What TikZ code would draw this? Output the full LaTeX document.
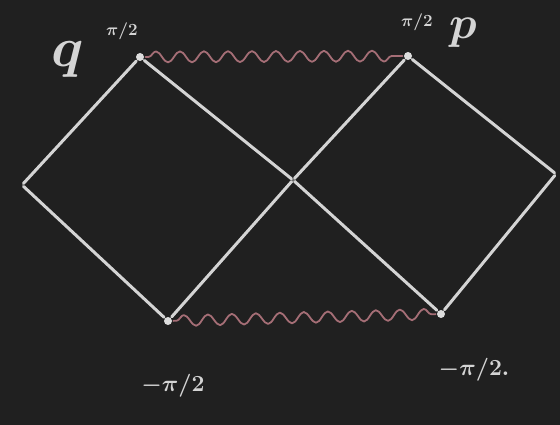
\RequirePackage{fix-cm}
\documentclass[tikz,border=0pt]{standalone}
\usepackage{amsmath}
\usepackage{xcolor}
\usetikzlibrary{decorations.pathmorphing}

\definecolor{board}{RGB}{32,32,32}
\definecolor{chalk}{RGB}{212,212,212}
\definecolor{redchalk}{RGB}{165,110,118}

\begin{document}
\begin{tikzpicture}[x=1pt,y=-1pt,line width=3pt,line join=round,line cap=round,
    corner/.style={circle,fill=chalk!80,inner sep=0pt,minimum size=8pt},
    tip/.style={inner sep=0pt,minimum size=0pt},
    wave/.style={draw=redchalk,line width=1.8pt,decorate,
      decoration={snake,segment length=24pt,amplitude=5.5pt,pre length=3pt,post length=3pt}},
    lbl/.style={text=chalk,inner sep=0pt}]
    \fill[board] (0,0) rectangle (560,425);
    \useasboundingbox (0,0) rectangle (560,425);

    \node[corner] (A) at (140,57) {};
    \node[corner] (B) at (408,56) {};
    \node[corner] (C) at (168,321) {};
    \node[corner] (D) at (441,314) {};
    \node[tip] (L) at (22,185) {};
    \node[tip] (R) at (556,174) {};
    \node[tip] (X) at (293,180) {};

    \draw[chalk] (L) -- (A) -- (X) -- (D) -- (R) -- (B) -- (X) -- (C) -- (L);
    \path (A) edge[wave] (B)
          (C) edge[wave] (D);

    \node[lbl,font=\fontsize{56}{56}\selectfont\boldmath] (q) at (68,60) {$q$};
    \node[lbl,font=\fontsize{17}{17}\selectfont\boldmath] (ptl) at (122,31) {$\pi/2$};
    \node[lbl,font=\fontsize{17}{17}\selectfont\boldmath] (ptr) at (417,22) {$\pi/2$};
    \node[lbl,font=\fontsize{46}{46}\selectfont\boldmath] (p) at (463,33) {$p$};
    \node[lbl,font=\fontsize{23}{23}\selectfont\boldmath] (mbl) at (173,386) {$-\pi/2$};
    \node[lbl,font=\fontsize{23}{23}\selectfont\boldmath] (mbr) at (474,370) {$-\pi/2.$};
\end{tikzpicture}
\end{document}
